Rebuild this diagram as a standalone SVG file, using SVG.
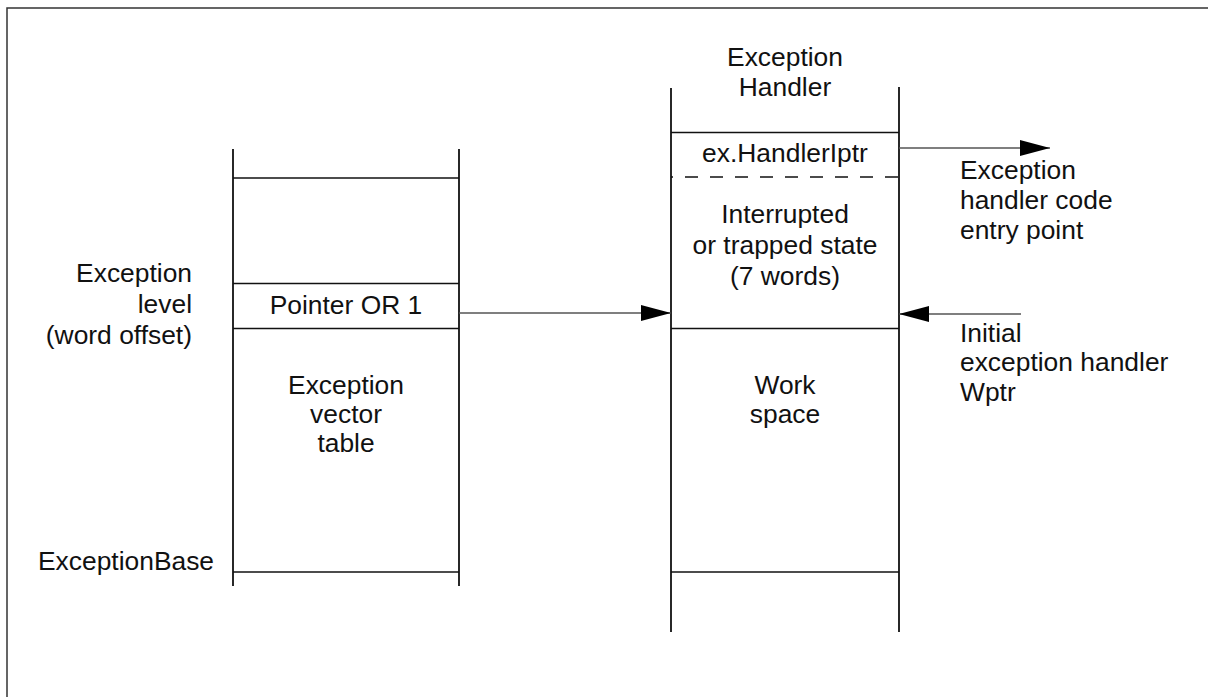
<svg xmlns="http://www.w3.org/2000/svg" width="1208" height="697" viewBox="0 0 1208 697">
<defs>
<style>
text{font-family:"Liberation Sans",Arial,sans-serif;font-size:26.4px;fill:#111}
.c{text-anchor:middle}
.r{text-anchor:end}
.v{stroke:#111;stroke-width:1.8;fill:none}
.h{stroke:#111;stroke-width:1.3;fill:none}
.a{stroke:#555;stroke-width:1.3;fill:none}
</style>
<marker id="ah" viewBox="0 0 30 16" refX="30" refY="8" markerWidth="30" markerHeight="16" markerUnits="userSpaceOnUse" orient="auto">
<path d="M0,0 L30,8 L0,16 Z" fill="#000"/>
</marker>
</defs>
<rect x="0" y="0" width="1208" height="697" fill="#fff"/>
<rect x="7" y="8" width="1400" height="900" fill="none" stroke="#333" stroke-width="1.5"/>

<g id="vector-table">
<line class="v" x1="233" y1="149" x2="233" y2="586"/>
<line class="v" x1="459" y1="149" x2="459" y2="586"/>
<line class="h" x1="233" y1="178" x2="459" y2="178"/>
<line class="h" x1="233" y1="283.5" x2="459" y2="283.5"/>
<line class="h" x1="233" y1="328.5" x2="459" y2="328.5"/>
<line class="h" x1="233" y1="572" x2="459" y2="572"/>
<text class="c" x="346" y="314">Pointer OR 1</text>
<text class="c" x="346" y="394">Exception</text>
<text class="c" x="346" y="423">vector</text>
<text class="c" x="346" y="452">table</text>
</g>

<g id="left-labels">
<text class="r" x="192" y="282">Exception</text>
<text class="r" x="192" y="313">level</text>
<text class="r" x="192" y="344">(word offset)</text>
<text x="38" y="570">ExceptionBase</text>
</g>

<g id="handler">
<line class="v" x1="671" y1="88" x2="671" y2="632"/>
<line class="v" x1="899" y1="87" x2="899" y2="632"/>
<line class="h" x1="671" y1="132.5" x2="899" y2="132.5"/>
<line class="h" x1="671" y1="177" x2="899" y2="177" stroke-dasharray="13 12" stroke-dashoffset="11" stroke="#444"/>
<line class="h" x1="671" y1="328.5" x2="899" y2="328.5"/>
<line class="h" x1="671" y1="572" x2="899" y2="572"/>
<text class="c" x="785" y="66">Exception</text>
<text class="c" x="785" y="96">Handler</text>
<text class="c" x="785" y="162">ex.HandlerIptr</text>
<text class="c" x="785" y="223">Interrupted</text>
<text class="c" x="785" y="254">or trapped state</text>
<text class="c" x="785" y="285">(7 words)</text>
<text class="c" x="785" y="394">Work</text>
<text class="c" x="785" y="423">space</text>
</g>

<g id="right-labels">
<text x="960" y="179">Exception</text>
<text x="960" y="209">handler code</text>
<text x="960" y="239">entry point</text>
<text x="960" y="342">Initial</text>
<text x="960" y="371">exception handler</text>
<text x="960" y="401">Wptr</text>
</g>

<g id="connectors">
<line class="a" x1="459" y1="313" x2="671" y2="313" marker-end="url(#ah)"/>
<line class="a" x1="899" y1="148" x2="1050" y2="148" marker-end="url(#ah)"/>
<line class="a" x1="1021" y1="314" x2="899" y2="314" marker-end="url(#ah)"/>
</g>
</svg>
